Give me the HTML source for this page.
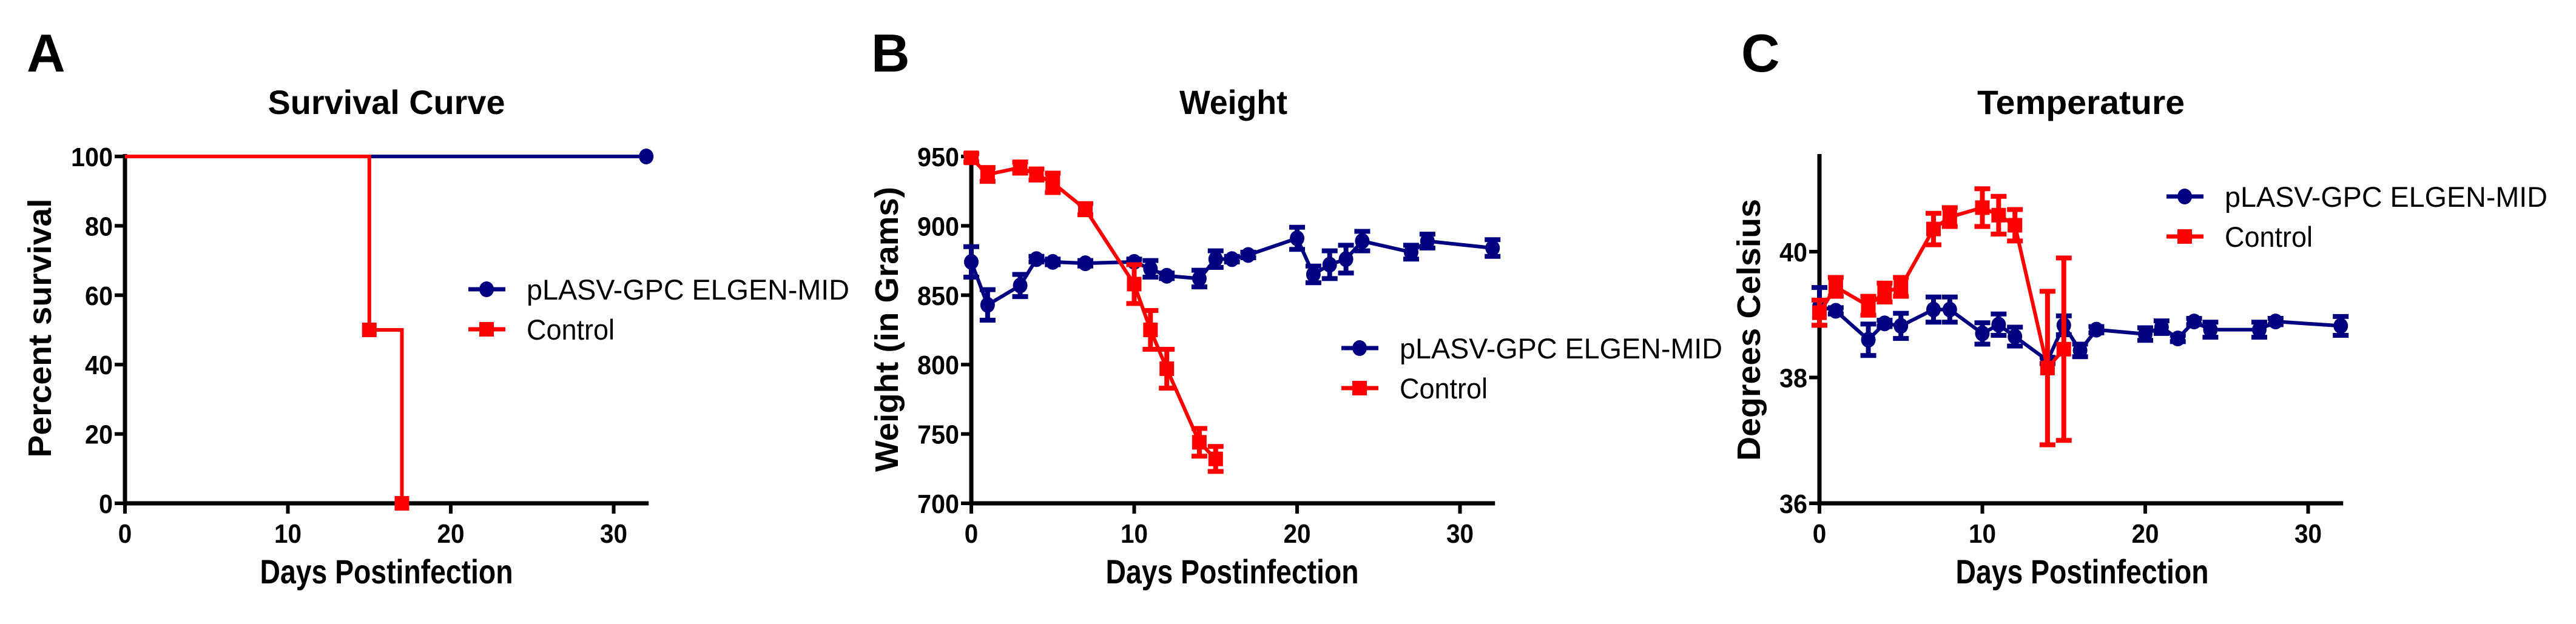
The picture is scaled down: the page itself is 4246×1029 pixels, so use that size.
<!DOCTYPE html>
<html><head><meta charset="utf-8"><style>
html,body{margin:0;padding:0;background:#fff;}
svg{display:block;}
text{font-family:"Liberation Sans",Arial,sans-serif;}
</style></head><body>
<svg id="fig" width="4246" height="1029" viewBox="0 0 4246 1029" xmlns="http://www.w3.org/2000/svg">
<rect width="4246" height="1029" fill="#fff"/>
</svg>
<script>
// ---- Data ----
const survDaysBlue = [0, 32];
const survValsBlue = [100, 100];
const survDaysRed = [0, 15, 15, 17, 17];
const survValsRed = [100, 100, 50, 50, 0];
const survMarkRedDays = [15, 17];
const survMarkRedVals = [50, 0];

const wDaysBlue = [0,1,3,4,5,7,10,11,12,14,15,16,17,20,21,22,23,24,27,28,32];
const wValsBlue = [874,843,857,876,874,873,874,869,864,862,876,876,879,891,865,872,876,889,881,889,884];
const wErrBlue  = [11,11,8,2,2,2,2,6,2,6,6,2,2,8,6,10,10,7,5,5,6];
const wDaysRed = [0,1,3,4,5,7,10,11,12,14,15];
const wValsRed = [949,937,942,937,931,912,858,825,797,744,732];
const wErrRed  = [3,5,4,4,7,4,14,14,14,10,9];

const tDaysBlue = [0,1,3,4,5,7,8,10,11,12,14,15,16,17,20,21,22,23,24,27,28,32];
const tValsBlue = [39.13,39.06,38.6,38.86,38.82,39.08,39.08,38.7,38.84,38.65,38.27,38.83,38.43,38.76,38.69,38.8,38.62,38.89,38.76,38.76,38.89,38.82];
const tErrBlue  = [0.3,0.05,0.25,0.05,0.2,0.2,0.2,0.17,0.17,0.15,0.05,0.15,0.1,0.05,0.1,0.1,0.05,0.05,0.12,0.12,0.05,0.15];
const tDaysRed = [0,1,3,4,5,7,8,10,11,12,14,15];
const tValsRed = [39.03,39.44,39.14,39.35,39.44,40.36,40.55,40.7,40.58,40.42,38.15,38.45];
const tErrRed  = [0.2,0.15,0.15,0.15,0.15,0.25,0.15,0.3,0.3,0.25,1.22,1.45];

const xTicks = [0,10,20,30];
const survTicks = [0,20,40,60,80,100];
const wTicks = [700,750,800,850,900,950];
const tTicks = [36,38,40];

const BLUE = "#000080", RED = "#ff0000";
const svg = document.getElementById('fig');
const NS = "http://www.w3.org/2000/svg";
function mk(tag, attrs, parent){const e=document.createElementNS(NS,tag);for(const k in attrs)e.setAttribute(k,attrs[k]);(parent||svg).appendChild(e);return e;}
function txt(str, attrs, parent){const e=mk('text',attrs,parent);e.textContent=str;return e;}

function panel(cfg){
  const g = mk('g',{});
  
  
  const x0=cfg.x0, ppd=26.85, y0=830, yTop=cfg.yTop;
  const sx = d => x0 + d*ppd;
  const sy = v => y0 - (v-cfg.vmin)/(cfg.vmax-cfg.vmin)*(y0-cfg.yMaxPix);
  cfg.sx=sx; cfg.sy=sy;
  // letter
  const L = txt(cfg.letter,{x:cfg.letterX,y:118,'font-size':88,'font-weight':'bold'},g);
  
  
  const T = txt(cfg.title,{x:cfg.titleX,y:188,'font-size':56,'font-weight':'bold','text-anchor':'middle',textLength:cfg.titleW,lengthAdjust:'spacingAndGlyphs'},g);
  
  
  // axes
  const ya = mk('line',{x1:x0,y1:yTop,x2:x0,y2:y0+3.5,stroke:'#000','stroke-width':7},g);
  
  
  const xa = mk('line',{x1:x0-3.5,y1:y0,x2:sx(32.15),y2:y0,stroke:'#000','stroke-width':7},g);
  
  
  xTicks.forEach(t=>{
    const tk = mk('line',{x1:sx(t),y1:y0,x2:sx(t),y2:y0+17,stroke:'#000','stroke-width':6},g);
    
    
    const s=String(t);
    const lb = txt(s,{x:sx(t),y:895,'font-size':44,'font-weight':'bold','text-anchor':'middle',textLength:s.length*22.5,lengthAdjust:'spacingAndGlyphs'},g);
    
    
  });
  cfg.yticks.forEach(t=>{
    const y=sy(t);
    const tk = mk('line',{x1:x0-17,y1:y,x2:x0,y2:y,stroke:'#000','stroke-width':6},g);
    
    
    const s=String(t);
    const lb = txt(s,{x:x0-20,y:y+16,'font-size':44,'font-weight':'bold','text-anchor':'end',textLength:s.length*23,lengthAdjust:'spacingAndGlyphs'},g);
    
    
  });
  const xt = txt('Days Postinfection',{x:cfg.xTitleX,y:962,'font-size':56,'font-weight':'bold','text-anchor':'middle',textLength:417,lengthAdjust:'spacingAndGlyphs'},g);
  
  
  const yt = txt(cfg.ytitle,{x:0,y:0,'font-size':54,'font-weight':'bold','text-anchor':'middle',textLength:cfg.ytitleW,lengthAdjust:'spacingAndGlyphs',transform:`translate(${cfg.ytitleX},${cfg.ytitleY}) rotate(-90)`},g);
  
  
  // legend
  const lg = mk('g',{},g);
  
  
  const e1 = mk('g',{},lg);
  
  
  mk('line',{x1:cfg.legX,y1:cfg.legY,x2:cfg.legX+61,y2:cfg.legY,stroke:BLUE,'stroke-width':7},e1);
  mk('ellipse',{cx:cfg.legX+30,cy:cfg.legY,rx:12,ry:13,fill:BLUE},e1);
  txt('pLASV-GPC ELGEN-MID',{x:cfg.legX+96,y:cfg.legY+17,'font-size':47,textLength:532,lengthAdjust:'spacingAndGlyphs'},e1);
  const e2 = mk('g',{},lg);
  
  
  const ly2=cfg.legY+66;
  mk('line',{x1:cfg.legX,y1:ly2,x2:cfg.legX+61,y2:ly2,stroke:RED,'stroke-width':7},e2);
  mk('rect',{x:cfg.legX+18,y:ly2-12,width:24,height:24,fill:RED},e2);
  txt('Control',{x:cfg.legX+96,y:ly2+17,'font-size':47,textLength:145,lengthAdjust:'spacingAndGlyphs'},e2);
  cfg.g=g;
  return cfg;
}

function series(cfg, days, vals, errs, color, marker, name){
  const g = mk('g',{},cfg.g);
  
  
  const pts = days.map((d,i)=>cfg.sx(d)+','+cfg.sy(vals[i])).join(' ');
  const pl = mk('polyline',{points:pts,fill:'none',stroke:color,'stroke-width':6,'stroke-linejoin':'round'},g);
  
  
  days.forEach((d,i)=>{
    const x=cfg.sx(d), y=cfg.sy(vals[i]);
    if(errs){
      const yt=cfg.sy(vals[i]+errs[i]), yb=cfg.sy(vals[i]-errs[i]);
      const eb = mk('path',{d:`M${x},${yt}V${yb}M${x-13},${yt}H${x+13}M${x-13},${yb}H${x+13}`,stroke:color,'stroke-width':8,fill:'none'},g);
      
      
    }
    let m;
    if(marker==='circle') m = mk('ellipse',{cx:x,cy:y,rx:12,ry:13,fill:color},g);
    else m = mk('rect',{x:x-12,y:y-12,width:24,height:24,fill:color},g);
    
    
  });
}

// Panel A
const A = panel({name:'panel-survival',letter:'A',letterX:44,title:'Survival Curve',titleX:637,titleW:391,x0:206,vmin:0,vmax:100,yMaxPix:258,yTop:254,yticks:survTicks,xTitleX:637,ytitle:'Percent survival',ytitleW:427,ytitleX:84,ytitleY:541,legX:772,legY:477});
(function(){
  const g=mk('g',{},A.g);
  
  
  mk('polyline',{points:survDaysBlue.map((d,i)=>A.sx(d)+','+A.sy(survValsBlue[i])).join(' '),fill:'none',stroke:BLUE,'stroke-width':6},g);
  const c=mk('ellipse',{cx:A.sx(32),cy:A.sy(100),rx:12,ry:13,fill:BLUE},g);
  
  
  const g2=mk('g',{},A.g);
  
  
  mk('polyline',{points:survDaysRed.map((d,i)=>A.sx(d)+','+A.sy(survValsRed[i])).join(' '),fill:'none',stroke:RED,'stroke-width':6},g2);
  survMarkRedDays.forEach((d,i)=>{
    const r=mk('rect',{x:A.sx(d)-12,y:A.sy(survMarkRedVals[i])-12,width:24,height:24,fill:RED},g2);
    
    
  });
})();

// Panel B
const B = panel({name:'panel-weight',letter:'B',letterX:1436,title:'Weight',titleX:2033,titleW:178,x0:1601,vmin:700,vmax:950,yMaxPix:258,yTop:254,yticks:wTicks,xTitleX:2031,ytitle:'Weight (in Grams)',ytitleW:470,ytitleX:1480,ytitleY:543,legX:2211,legY:574});
series(B,wDaysBlue,wValsBlue,wErrBlue,BLUE,'circle','weight-elgen');
series(B,wDaysRed,wValsRed,wErrRed,RED,'square','weight-control');

// Panel C
const C = panel({name:'panel-temperature',letter:'C',letterX:2870,title:'Temperature',titleX:3430,titleW:342,x0:2999,vmin:36,vmax:40,yMaxPix:415,yTop:254,yticks:tTicks,xTitleX:3432,ytitle:'Degrees Celsius',ytitleW:432,ytitleX:2901,ytitleY:544,legX:3571,legY:324});
series(C,tDaysBlue,tValsBlue,tErrBlue,BLUE,'circle','temperature-elgen');
series(C,tDaysRed,tValsRed,tErrRed,RED,'square','temperature-control');
</script>
</body></html>
